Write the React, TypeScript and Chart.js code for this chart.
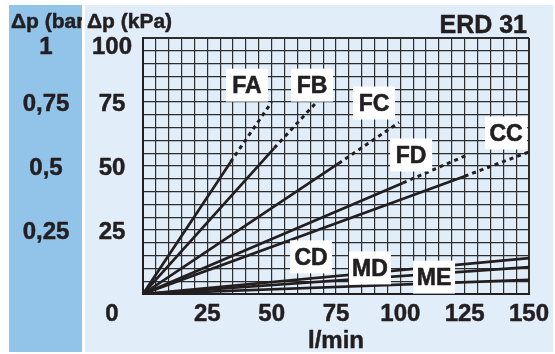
import React, { useEffect, useRef } from 'react';
import { Chart, registerables } from 'chart.js';

Chart.register(...registerables);

// ---- data ----
const seriesNames = ['FA', 'FB', 'FC', 'FD', 'CC', 'CD', 'MD', 'ME'];
const solidEndFlow = [34, 51, 76, 101, 125, 150, 150, 150];
const solidEndDp = [51.5, 57, 51, 43.4, 46, 14, 10.5, 5.5];
const dottedEndFlow: (number | null)[] = [50, 67.5, 99.5, 126, 150, null, null, null];
const dottedEndDp: (number | null)[] = [75, 75, 67, 54.3, 55.5, null, null, null];

const flowTicks = [25, 50, 75, 100, 125, 150];
const kpaTicks = [100, 75, 50, 25];
const barTickValues = [1, 0.75, 0.5, 0.25];
const barTickLabels = ['1', '0,75', '0,5', '0,25'];

const title = 'ERD 31';
const barHeader = 'Δp (bar)';
const kpaHeader = 'Δp (kPa)';
const xTitle = 'l/min';
const originLabel = '0';

// label anchors in data coordinates (flow, kPa)
const labelFlow = [40.4, 65.7, 89.8, 104.2, 141.1, 65.3, 88.2, 113.1];
const labelDp = [81.6, 81.6, 74.6, 54.3, 62.9, 14.5, 10.2, 6.6];

// ---- style ----
const INK = '#231f20';
const BAND = '#92c3e9';
const LIGHT = '#e1edf9';
const FONT = '"Liberation Sans", Arial, Helvetica, sans-serif';

function heavyText(c: CanvasRenderingContext2D, s: string, x: number, y: number) {
  c.fillText(s, x, y);
  c.strokeText(s, x, y);
}

export default function App() {
  const ref = useRef<HTMLCanvasElement>(null);

  useEffect(() => {
    document.body.style.margin = '0';
    const canvas = ref.current!;

    const datasets = seriesNames.map((name, i) => {
      const pts: { x: number; y: number }[] = [
        { x: 0, y: 0 },
        { x: solidEndFlow[i], y: solidEndDp[i] },
      ];
      if (dottedEndFlow[i] != null) pts.push({ x: dottedEndFlow[i] as number, y: dottedEndDp[i] as number });
      return {
        label: name,
        data: pts,
        borderColor: INK,
        borderWidth: 2.7,
        pointRadius: 0,
        fill: false,
        tension: 0,
        borderCapStyle: 'butt' as const,
        segment: {
          borderDash: (ctx: any) => (ctx.p0DataIndex >= 1 ? [4, 4] : undefined),
          borderWidth: (ctx: any) => (ctx.p0DataIndex >= 1 ? 3 : 2.7),
        },
      };
    });

    const decor = {
      id: 'decor',
      beforeDraw(chart: any) {
        const c = chart.ctx;
        c.save();
        c.fillStyle = '#ffffff';
        c.fillRect(0, 0, chart.width, chart.height);
        c.fillStyle = LIGHT;
        c.fillRect(85, 5, 468, 347);
        c.fillStyle = BAND;
        c.fillRect(9, 5, 73, 347);
        c.restore();
      },
      afterDatasetsDraw(chart: any) {
        const c = chart.ctx;
        const xs = chart.scales.x;
        const ys = chart.scales.y;
        c.save();
        c.font = `bold 23px ${FONT}`;
        c.textAlign = 'center';
        c.textBaseline = 'alphabetic';
        c.strokeStyle = INK;
        c.lineWidth = 0.6;
        c.lineJoin = 'round';
        seriesNames.forEach((name, i) => {
          const px = xs.getPixelForValue(labelFlow[i]);
          const py = ys.getPixelForValue(labelDp[i]);
          c.fillStyle = '#ffffff';
          c.fillRect(px - 21, py - 16.5, 42, 33);
          c.fillStyle = INK;
          heavyText(c, name, px, py + 8.2);
        });
        c.restore();
      },
      afterDraw(chart: any) {
        const c = chart.ctx;
        const xs = chart.scales.x;
        const ys = chart.scales.y;
        const area = chart.chartArea;
        c.save();
        c.fillStyle = INK;
        c.strokeStyle = INK;
        c.lineWidth = 0.5;
        c.lineJoin = 'round';

        // headers
        c.font = `bold 21px ${FONT}`;
        c.textAlign = 'left';
        c.textBaseline = 'alphabetic';
        c.save();
        c.beginPath();
        c.rect(9, 5, 73, 40);
        c.clip();
        heavyText(c, barHeader, 11, 28);
        c.restore();
        heavyText(c, kpaHeader, 87, 28);

        // title
        c.font = `bold 25px ${FONT}`;
        c.textAlign = 'right';
        heavyText(c, title, 527, 33);

        // kPa ticks
        c.font = `bold 24px ${FONT}`;
        c.textAlign = 'center';
        const kpaX = 112;
        kpaTicks.forEach((v) => {
          const py = Math.max(ys.getPixelForValue(v), area.top + 7);
          heavyText(c, String(v), kpaX, py + 8.6);
        });
        // bar ticks
        barTickValues.forEach((v, i) => {
          const py = Math.max(ys.getPixelForValue(v * 100), area.top + 7);
          heavyText(c, barTickLabels[i], 46, py + 8.6);
        });
        // x ticks
        const xBase = area.bottom + 18 + 8.6;
        flowTicks.forEach((v) => {
          heavyText(c, String(v), xs.getPixelForValue(v), xBase);
        });
        heavyText(c, originLabel, kpaX, xBase);

        // x title
        heavyText(c, xTitle, xs.getPixelForValue(75), 348);
        c.restore();
      },
    };

    const gridWidth = (ctx: any, edge: number) =>
      ctx.tick && (ctx.tick.value === 0 || ctx.tick.value === edge) ? 2 : 1.2;

    const chart = new Chart(canvas, {
      type: 'line',
      data: { datasets: datasets as any },
      options: {
        responsive: false,
        animation: false,
        events: [],
        layout: { padding: { left: 143, top: 38, right: 26, bottom: 60 } },
        plugins: { legend: { display: false }, tooltip: { enabled: false } },
        scales: {
          x: {
            type: 'linear',
            min: 0,
            max: 150,
            afterFit: (s: any) => { s.height = 0; },
            ticks: { display: false, stepSize: 5, autoSkip: false },
            grid: { color: '#2e2e2e', lineWidth: (ctx: any) => gridWidth(ctx, 150), drawTicks: false },
            border: { display: true, color: INK, width: 2 },
          },
          y: {
            type: 'linear',
            min: 0,
            max: 100,
            afterFit: (s: any) => { s.width = 0; },
            ticks: { display: false, stepSize: 5, autoSkip: false },
            grid: { color: '#2e2e2e', lineWidth: (ctx: any) => gridWidth(ctx, 100), drawTicks: false },
            border: { display: true, color: INK, width: 2 },
          },
        },
      },
      plugins: [decor],
    });

    return () => chart.destroy();
  }, []);

  return <canvas ref={ref} width={555} height={354} style={{ display: 'block' }} />;
}
